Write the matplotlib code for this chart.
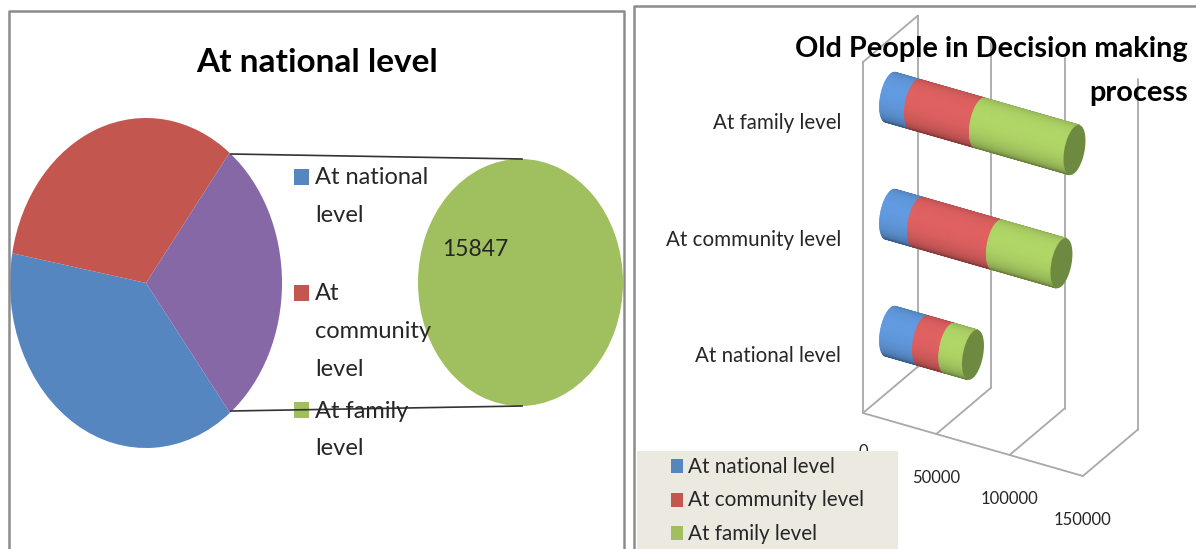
import numpy as np
import matplotlib
matplotlib.use('Agg')
import matplotlib.pyplot as plt
from matplotlib.collections import PolyCollection
from matplotlib.patches import Rectangle, Polygon

W, H = 1196, 549

categories = ['At national level', 'At community level', 'At family level']
national_vals = [22500, 19000, 17000]
community_vals = [17900, 53900, 44300]
family_vals = [15847, 43700, 64200]
pie_vals = [21100, 17900, 15847]
second_pie_vals = [15847]
axis_ticks = [0, 50000, 100000, 150000]

BLUE, RED, PURPLE, GREEN = '#5586C0', '#C45650', '#8768A6', '#A0BF5E'
BAR_COLORS = ['#619AE0', '#E06060', '#B0D666']
CAP_COLOR = '#6E8A40'
GRID = '#a8a8a8'
FRAME = '#8c8c8c'
TEXT = '#262626'
FONT = 'Lato'

fig = plt.figure(figsize=(W / 100, H / 100), dpi=100, facecolor='white')


def px_axes(x0, y0, x1, y1, z):
    return fig.add_axes([x0 / W, 1 - y1 / H, (x1 - x0) / W, (y1 - y0) / H], zorder=z)


# main pie, stretched to an ellipse
ax_pie = px_axes(10, 118, 282, 448, 1)
ax_pie.pie(pie_vals, colors=[BLUE, RED, PURPLE], startangle=-51.9, counterclock=False,
           radius=1, wedgeprops=dict(linewidth=0))
ax_pie.set_aspect('auto')
ax_pie.set_xlim(-1, 1)
ax_pie.set_ylim(-1, 1)

ax_pie2 = px_axes(418, 159, 623, 406, 1)
ax_pie2.pie(second_pie_vals, colors=[GREEN], radius=1, wedgeprops=dict(linewidth=0))
ax_pie2.set_aspect('auto')
ax_pie2.set_xlim(-1, 1)
ax_pie2.set_ylim(-1, 1)

# everything else goes on a see-through axes in pixel coordinates
ax = fig.add_axes([0, 0, 1, 1], zorder=2)
ax.set_xlim(0, W)
ax.set_ylim(H, 0)
ax.axis('off')
ax.patch.set_alpha(0)

# panel frames
ax.plot([9, 9, 624, 624], [H + 5, 11, 11, H + 5], color=FRAME, lw=1.8)
ax.plot([634, 634, W + 5], [H + 5, 6, 6], color=FRAME, lw=1.8)

# left panel
ax.text(317, 63, 'At national level', ha='center', va='center', fontsize=24,
        fontweight='bold', family=FONT, color='black')
ax.plot([231, 522], [154, 159], color='#333333', lw=1.2)
ax.plot([231, 522], [411, 406], color='#333333', lw=1.2)
ax.text(442, 249, f'{second_pie_vals[0]}', ha='left', va='center', fontsize=16.5, family=FONT,
        color=TEXT)

left_legend = [(BLUE, 177, ['At national', 'level']),
               (RED, 293, ['At', 'community', 'level']),
               (GREEN, 410, ['At family', 'level'])]
for color, y, lines in left_legend:
    ax.add_patch(Rectangle((294, y - 8), 15, 16, fc=color, ec='none'))
    for i, line in enumerate(lines):
        ax.text(315, y + 1 + i * 37.5, line, ha='left', va='center', fontsize=17,
                family=FONT, color=TEXT)

# right panel: fake 3d projection, same oblique view as the excel chart
X0, Y0 = 863, 413
X_STEP, Y_STEP = 73.3 / 50000, 21 / 50000
DEPTH_X, DEPTH_Y = 55, -46.5
WALL_H = 351
ROW_H = WALL_H / len(categories)


def proj(value, depth=0.0, height=0.0):
    return (X0 + value * X_STEP + depth * DEPTH_X,
            Y0 + value * Y_STEP + depth * DEPTH_Y - height)


def line3d(a, b):
    pa, pb = proj(*a), proj(*b)
    ax.plot([pa[0], pb[0]], [pa[1], pb[1]], color=GRID, lw=1.3, zorder=1, solid_capstyle='round')


first_tick, last_tick = axis_ticks[0], axis_ticks[-1]
for t in axis_ticks:
    line3d((t, 1, 0), (t, 1, WALL_H))
    line3d((t, 0, 0), (t, 1, 0))
line3d((first_tick, 0, 0), (last_tick, 0, 0))
line3d((first_tick, 0, 0), (first_tick, 0, WALL_H))
line3d((first_tick, 0, WALL_H), (first_tick, 1, WALL_H))

for t in axis_ticks:
    px, py = proj(t)
    ax.text(px, py + (39 if t == 0 else 44), f'{t}', ha='center', va='center', fontsize=12,
            family=FONT, color=TEXT, zorder=1)

for i, cat in enumerate(categories):
    ax.text(841, 356 - i * 116.5, cat, ha='right', va='center', fontsize=14.8,
            family=FONT, color=TEXT)

# cylinder cross section, silhouette angle worked out from the bar direction
RAD_X, RAD_Y, RAD_V = 11, 9.3, 23.2
DX, DY = X_STEP * 50000, Y_STEP * 50000
theta0 = np.arctan2(DX * RAD_V, DY * RAD_X + DX * RAD_Y)
thetas = np.linspace(theta0, theta0 + np.pi, 41)


def ring(cx, cy, th):
    return (cx + RAD_X * np.cos(th), cy - RAD_Y * np.cos(th) - RAD_V * np.sin(th))


def cylinder(start, stop, height, color):
    cx0, cy0 = proj(start, 0.5, height)
    cx1, cy1 = proj(stop, 0.5, height)
    polys, shades = [], []
    rgb = np.array(matplotlib.colors.to_rgb(color))
    for k in range(len(thetas) - 1):
        a, b = thetas[k], thetas[k + 1]
        polys.append([ring(cx0, cy0, a), ring(cx1, cy1, a), ring(cx1, cy1, b), ring(cx0, cy0, b)])
        t = (k + 0.5) / (len(thetas) - 1)
        shades.append(rgb * (1 - 0.30 * abs(2 * t - 0.85) ** 2.2))
    ax.add_collection(PolyCollection(polys, facecolors=shades, edgecolors=shades, linewidths=0.6,
                                     zorder=3))


for i in range(len(categories)):
    height = (i + 0.5) * ROW_H
    left = 0
    for vals, color in zip([national_vals, community_vals, family_vals], BAR_COLORS):
        cylinder(left, left + vals[i], height, color)
        left += vals[i]
    cx, cy = proj(left, 0.5, height)
    all_th = np.linspace(0, 2 * np.pi, 80)
    ax.add_patch(Polygon(np.column_stack(ring(cx, cy, all_th)), fc=CAP_COLOR, ec='none', zorder=4))

# right legend sits on top of the "0" tick
ax.add_patch(Rectangle((637, 451), 261, H - 451 + 5, fc='#ECE9E1', ec='none', zorder=5))
for i, (cat, color) in enumerate(zip(categories, [BLUE, RED, GREEN])):
    y = 466 + i * 33.5
    ax.add_patch(Rectangle((671, y - 7), 12, 14, fc=color, ec='none', zorder=6))
    ax.text(688, y + 1, cat, ha='left', va='center', fontsize=14.9, family=FONT, color=TEXT,
            zorder=6)

ax.text(1188, 49, 'Old People in Decision making', ha='right', va='center', fontsize=20.8,
        fontweight='bold', family=FONT, color='black', zorder=7)
ax.text(1188, 93, 'process', ha='right', va='center', fontsize=20.8, fontweight='bold',
        family=FONT, color='black', zorder=7)

fig.savefig('out.png', dpi=100, facecolor='white')
